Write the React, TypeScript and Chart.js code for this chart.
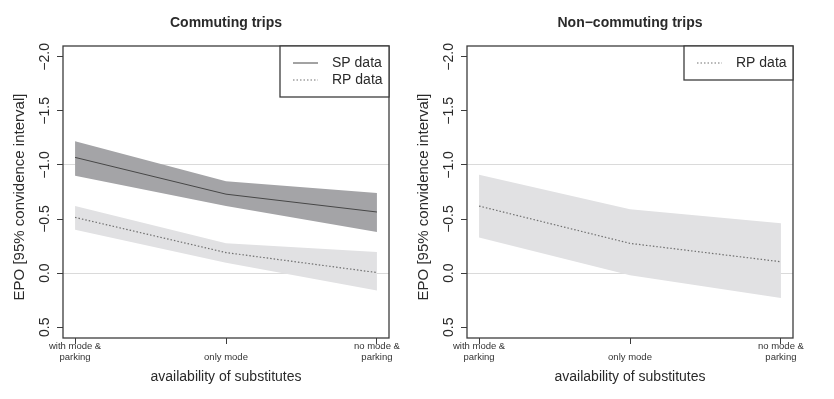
import React, { useEffect, useRef } from "react";
import { Chart, registerables } from "chart.js";

Chart.register(...registerables);

// ---------- data ----------
const xPositions = [1, 2, 3];
const xTickLabels = [
  ["with mode &", "parking"],
  ["", "only mode"],
  ["no mode &", "parking"],
];
const yTickValues = [-2, -1.5, -1, -0.5, 0, 0.5];
const yTickLabels = ["\u22122.0", "\u22121.5", "\u22121.0", "\u22120.5", "0.0", "0.5"];
const refLines = [-1, 0];

// Commuting trips – SP data
const commSPMean = [-1.07, -0.73, -0.565];
const commSPUpper = [-1.22, -0.85, -0.74];
const commSPLower = [-0.9, -0.62, -0.38];
// Commuting trips – RP data
const commRPMean = [-0.515, -0.19, -0.005];
const commRPUpper = [-0.62, -0.275, -0.195];
const commRPLower = [-0.4, -0.095, 0.16];
// Non-commuting trips – RP data
const nonRPMean = [-0.62, -0.275, -0.105];
const nonRPUpper = [-0.91, -0.59, -0.46];
const nonRPLower = [-0.33, 0.02, 0.23];

const titles = ["Commuting trips", "Non\u2212commuting trips"];
const xTitle = "availability of substitutes";
const yTitle = "EPO [95% convidence interval]";

// ---------- styling ----------
const FONT = "'Liberation Sans', Arial, Helvetica, sans-serif";
const DARK_BAND = "#a4a4a7";
const LIGHT_BAND = "#e1e1e3";
const SP_LINE = "#474747";
const RP_LINE = "#707070";
const TEXT = "#2a2a2a";
const BOX = "#3c3c3c";

const pts = (ys: number[]) => xPositions.map((x, i) => ({ x, y: ys[i] }));

function band(upper: number[], lower: number[], color: string) {
  return [
    {
      data: pts(upper),
      borderWidth: 0,
      pointRadius: 0,
      backgroundColor: color,
      fill: "+1",
      order: 2,
    },
    {
      data: pts(lower),
      borderWidth: 0,
      pointRadius: 0,
      backgroundColor: color,
      fill: false,
      order: 2,
    },
  ];
}

function meanLine(values: number[], color: string, dotted: boolean) {
  return {
    data: pts(values),
    borderColor: color,
    borderWidth: dotted ? 1.2 : 1,
    borderDash: dotted ? [1.5, 2] : [],
    pointRadius: 0,
    fill: false,
    tension: 0,
    order: 0,
  };
}

type LegendItem = { label: string; dotted: boolean; color: string };

function Panel({
  left,
  title,
  datasets,
  legend,
}: {
  left: number;
  title: string;
  datasets: any[];
  legend: LegendItem[];
}) {
  const ref = useRef<HTMLCanvasElement | null>(null);

  useEffect(() => {
    if (!ref.current) return;
    const decor = {
      id: "decor",
      afterDraw(chart: any) {
        const { ctx, chartArea } = chart;
        const ys = chart.scales.y;
        const { left: l, right: r, top: t, bottom: b } = chartArea;
        const cx = (l + r) / 2;
        ctx.save();
        // box
        ctx.strokeStyle = BOX;
        ctx.lineWidth = 1.3;
        ctx.setLineDash([]);
        ctx.strokeRect(l, t, r - l, b - t);
        // title
        ctx.fillStyle = TEXT;
        ctx.font = `bold 14px ${FONT}`;
        ctx.textAlign = "center";
        ctx.textBaseline = "middle";
        ctx.fillText(title, cx, 23);
        // y tick labels (rotated)
        ctx.font = `14px ${FONT}`;
        yTickValues.forEach((v, i) => {
          const py = ys.getPixelForValue(v);
          ctx.save();
          ctx.translate(l - 18, py);
          ctx.rotate(-Math.PI / 2);
          ctx.fillText(yTickLabels[i], 0, 0);
          ctx.restore();
        });
        // y title
        ctx.font = `15px ${FONT}`;
        ctx.save();
        ctx.translate(l - 43, (t + b) / 2 + 5);
        ctx.rotate(-Math.PI / 2);
        ctx.fillText(yTitle, 0, 0);
        ctx.restore();
        // x title
        ctx.font = `14px ${FONT}`;
        ctx.fillText(xTitle, cx, 377);
        // legend
        const bw = 109;
        const bh = 17 * legend.length + 17;
        ctx.strokeStyle = BOX;
        ctx.lineWidth = 1.3;
        ctx.fillStyle = "#ffffff";
        ctx.fillRect(r - bw, t, bw, bh);
        ctx.strokeRect(r - bw, t, bw, bh);
        legend.forEach((it, i) => {
          const y = t + 17 * (i + 1);
          ctx.beginPath();
          ctx.strokeStyle = it.color;
          ctx.lineWidth = it.dotted ? 1.2 : 1;
          ctx.setLineDash(it.dotted ? [1.5, 2] : []);
          ctx.moveTo(r - 96, y);
          ctx.lineTo(r - 71, y);
          ctx.stroke();
          ctx.setLineDash([]);
          ctx.fillStyle = TEXT;
          ctx.font = `14px ${FONT}`;
          ctx.textAlign = "left";
          ctx.fillText(it.label, r - 57, y);
        });
        ctx.restore();
      },
    };

    const chart = new Chart(ref.current, {
      type: "line",
      data: { datasets },
      options: {
        animation: false,
        responsive: false,
        devicePixelRatio: 1,
        layout: { padding: { top: 46, right: 28, left: 0, bottom: 0 } },
        plugins: {
          legend: { display: false },
          tooltip: { enabled: false },
          title: { display: false },
        },
        scales: {
          x: {
            type: "linear",
            min: 0.92,
            max: 3.08,
            afterBuildTicks: (s: any) => {
              s.ticks = xPositions.map((v) => ({ value: v }));
            },
            afterFit: (s: any) => {
              s.height = 61;
            },
            ticks: {
              autoSkip: false,
              maxRotation: 0,
              minRotation: 0,
              padding: -2.5,
              color: "#333",
              font: { family: FONT, size: 9.5, lineHeight: 1.1 },
              callback: (v: any) => {
                const i = xPositions.indexOf(Number(v));
                return i >= 0 ? xTickLabels[i] : "";
              },
            },
            grid: {
              drawOnChartArea: false,
              drawTicks: true,
              tickLength: 6,
              tickColor: BOX,
              color: BOX,
            },
            border: { display: false },
          },
          y: {
            type: "linear",
            reverse: true,
            min: -2.1,
            max: 0.6,
            afterBuildTicks: (s: any) => {
              s.ticks = yTickValues.map((v) => ({ value: v }));
            },
            afterFit: (s: any) => {
              s.width = 63;
            },
            ticks: { display: false },
            grid: {
              drawTicks: true,
              tickLength: 6,
              tickColor: BOX,
              color: (c: any) =>
                c.tick && refLines.includes(c.tick.value) ? "#dadada" : "rgba(0,0,0,0)",
              lineWidth: 1,
            },
            border: { display: false },
          },
        },
      },
      plugins: [decor],
    } as any);
    return () => chart.destroy();
  }, []);

  return (
    <canvas
      ref={ref}
      width={417}
      height={399}
      style={{ position: "absolute", left, top: 0, width: 417, height: 399 }}
    />
  );
}

export default function App() {
  const leftSets = [
    ...band(commSPUpper, commSPLower, DARK_BAND),
    meanLine(commSPMean, SP_LINE, false),
    ...band(commRPUpper, commRPLower, LIGHT_BAND),
    meanLine(commRPMean, RP_LINE, true),
  ];
  const rightSets = [
    ...band(nonRPUpper, nonRPLower, LIGHT_BAND),
    meanLine(nonRPMean, RP_LINE, true),
  ];
  return (
    <div
      style={{
        position: "fixed",
        left: 0,
        top: 0,
        width: 834,
        height: 399,
        background: "#ffffff",
        overflow: "hidden",
      }}
    >
      <Panel
        left={0}
        title={titles[0]}
        datasets={leftSets}
        legend={[
          { label: "SP data", dotted: false, color: SP_LINE },
          { label: "RP data", dotted: true, color: RP_LINE },
        ]}
      />
      <Panel
        left={404}
        title={titles[1]}
        datasets={rightSets}
        legend={[{ label: "RP data", dotted: true, color: RP_LINE }]}
      />
    </div>
  );
}
